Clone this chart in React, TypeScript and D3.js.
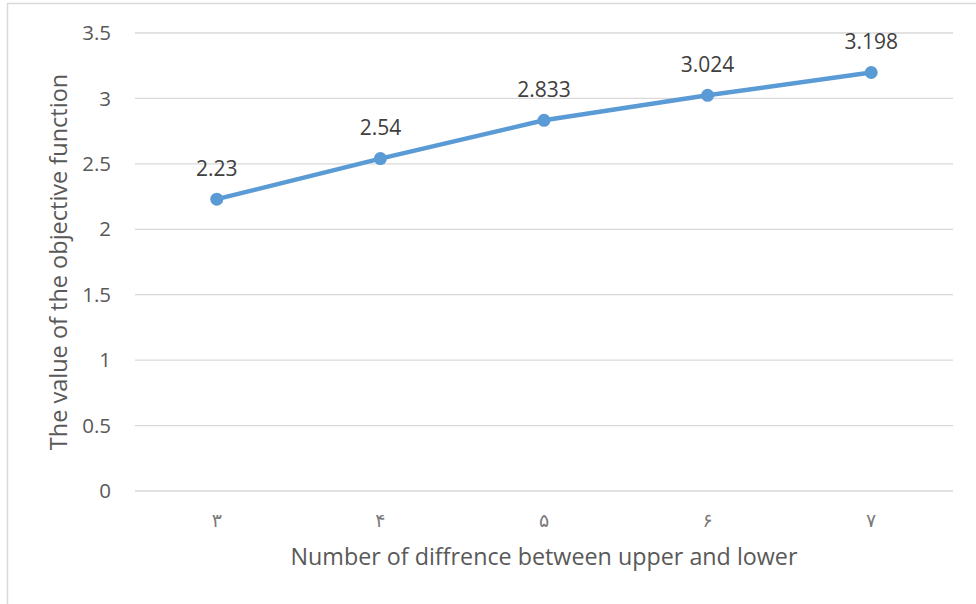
import React, { useEffect, useRef } from 'react';
import { select, scaleBand, scaleLinear, line } from 'd3';

const categories = ['۳', '۴', '۵', '۶', '۷'];
const values = [2.23, 2.54, 2.833, 3.024, 3.198];
const valueLabels = ['2.23', '2.54', '2.833', '3.024', '3.198'];
const yTicks = [0, 0.5, 1, 1.5, 2, 2.5, 3, 3.5];

const W = 976;
const H = 604;
const font = "'Open Sans', 'Noto Sans', sans-serif";

const App: React.FC = () => {
  const svgRef = useRef<SVGSVGElement>(null);

  useEffect(() => {
    if (!svgRef.current) return;
    const svg = select(svgRef.current);
    svg.selectAll('*').remove();

    svg.append('rect').attr('width', W).attr('height', H).attr('fill', '#ffffff');
    // chart border
    svg.append('rect')
      .attr('x', 7.5).attr('y', 3.5).attr('width', W + 10).attr('height', H + 10)
      .attr('fill', 'none').attr('stroke', '#d9d9d9').attr('stroke-width', 1.5);

    const left = 135, right = 953, top = 33, bottom = 491;
    const x = scaleBand<string>().domain(categories).range([left, right]);
    const y = scaleLinear().domain([0, 3.5]).range([bottom, top]);

    const grid = svg.append('g');
    grid.selectAll('line').data(yTicks).enter().append('line')
      .attr('x1', left).attr('x2', right)
      .attr('y1', d => y(d)).attr('y2', d => y(d))
      .attr('stroke', '#d9d9d9').attr('stroke-width', 1.3);

    svg.append('g').selectAll('text').data(yTicks).enter().append('text')
      .attr('x', 111).attr('y', d => y(d)).attr('dy', '0.35em')
      .attr('text-anchor', 'end')
      .attr('font-family', font).attr('font-size', '20.5px').attr('fill', '#595959')
      .text(d => String(d));

    const cx = (c: string) => (x(c) || 0) + x.bandwidth() / 2;

    svg.append('g').selectAll('text').data(categories).enter().append('text')
      .attr('x', d => cx(d)).attr('y', 520).attr('dy', '0.35em')
      .attr('text-anchor', 'middle')
      .attr('font-family', "'DejaVu Sans', sans-serif").attr('font-size', '19px').attr('fill', '#7a7a7a')
      .text(d => d);

    const pts = categories.map((c, i) => ({ c, v: values[i], label: valueLabels[i] }));
    const path = line<{ c: string; v: number }>().x(d => cx(d.c)).y(d => y(d.v));

    svg.append('path').datum(pts).attr('d', path)
      .attr('fill', 'none').attr('stroke', '#5b9bd5').attr('stroke-width', 4.5)
      .attr('stroke-linejoin', 'round').attr('stroke-linecap', 'round');

    svg.append('g').selectAll('circle').data(pts).enter().append('circle')
      .attr('cx', d => cx(d.c)).attr('cy', d => y(d.v)).attr('r', 6.5)
      .attr('fill', '#5b9bd5');

    svg.append('g').selectAll('text').data(pts).enter().append('text')
      .attr('x', d => cx(d.c)).attr('y', d => y(d.v) - 31).attr('dy', '0.35em')
      .attr('text-anchor', 'middle')
      .attr('font-family', font).attr('font-size', '21px').attr('fill', '#404040')
      .text(d => d.label);

    svg.append('text')
      .attr('transform', `translate(59,262) rotate(-90)`)
      .attr('dy', '0.35em').attr('text-anchor', 'middle')
      .attr('font-family', font).attr('font-size', '23.5px').attr('fill', '#595959')
      .text('The value of the objective function');

    svg.append('text')
      .attr('x', (left + right) / 2).attr('y', 557).attr('dy', '0.35em')
      .attr('text-anchor', 'middle')
      .attr('font-family', font).attr('font-size', '23.3px').attr('fill', '#595959')
      .text('Number of diffrence between upper and lower');
  }, []);

  return (
    <div style={{ position: 'fixed', left: 0, top: 0, width: W, height: H, overflow: 'hidden' }}>
      <svg ref={svgRef} width={W} height={H} viewBox={`0 0 ${W} ${H}`} style={{ display: 'block' }} />
    </div>
  );
};

export default App;
